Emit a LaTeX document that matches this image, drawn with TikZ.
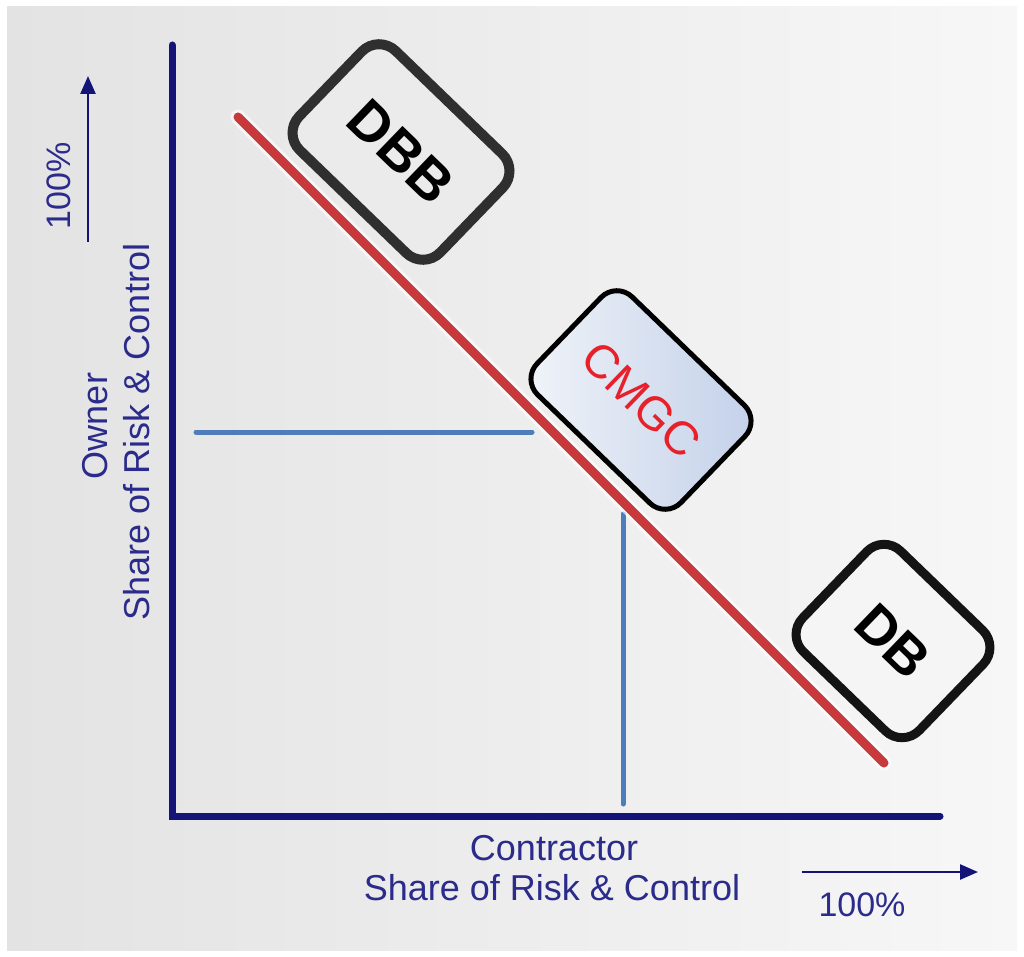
\documentclass[tikz,border=0pt]{standalone}
\usepackage{fontspec}
\setmainfont{Liberation Sans}
\usetikzlibrary{arrows.meta}
\definecolor{axisblue}{HTML}{141478}
\definecolor{labelblue}{HTML}{2B2B8C}
\definecolor{thinblue}{HTML}{4F7DBA}
\definecolor{redline}{HTML}{C8393C}
\definecolor{bgleft}{HTML}{E3E3E3}
\definecolor{bgright}{HTML}{F7F7F7}
\definecolor{dbbfill}{HTML}{EBEBEB}
\definecolor{dbbdraw}{HTML}{2F2F2F}
\definecolor{dbfill}{HTML}{F5F5F5}
\definecolor{cmgcL}{HTML}{F1F4F9}
\definecolor{cmgcR}{HTML}{C2D0E9}
\definecolor{cmgctext}{HTML}{E8202A}
\begin{document}
\begin{tikzpicture}[x=1pt,y=-1pt,
  lbl/.style={text=labelblue,font=\fontsize{36}{40}\selectfont,inner sep=0pt},
  pct/.style={text=labelblue,font=\fontsize{34}{38}\selectfont,inner sep=0pt},
  axisline/.style={draw=axisblue,line width=7pt,line cap=round,line join=miter},
  arrowline/.style={draw=axisblue,line width=2.5pt,-{Triangle[width=15pt,length=18pt]}},
  guide/.style={draw=thinblue,line width=5pt,line cap=round},
  diag/.style={draw=redline,line width=9pt,line cap=round},
  halo/.style={draw=white,opacity=0.6,line width=15pt,line cap=round},
  methodbox/.style={rectangle,inner sep=0pt,rotate=-44,align=center}]
\useasboundingbox (0,0) rectangle (1024,957);
\fill[white] (0,0) rectangle (1024,957);
\shade[left color=bgleft,right color=bgright] (7,7) rectangle (1017,950);

% coordinates
\coordinate (yTop) at (172,45);
\coordinate (origin) at (172,816);
\coordinate (xEnd) at (940,816);
\coordinate (rA) at (238,117);
\coordinate (rB) at (884,763);
\coordinate (hA) at (196,432);
\coordinate (hB) at (532,432);
\coordinate (vA) at (623,514);
\coordinate (vB) at (623,804);
\coordinate (uA) at (88,242);
\coordinate (uB) at (88,76);
\coordinate (sA) at (802,872);
\coordinate (sB) at (978,872);

% axes
\draw[axisline] (yTop) -- (origin) -- (xEnd);

% guide lines
\draw[guide] (hA) -- (hB);
\draw[guide] (vA) -- (vB);

% diagonal
\draw[halo] (rA) -- (rB);
\draw[diag] (rA) -- (rB);

% boxes
\node[methodbox,draw=dbbdraw,fill=dbbfill,line width=10pt,rounded corners=24pt,
  minimum width=196pt,minimum height=138pt,
  font=\fontsize{56}{60}\selectfont\bfseries] (dbb) at (401,152) {DBB};
\node[methodbox,draw=black,left color=cmgcL,right color=cmgcR,line width=5pt,rounded corners=22pt,
  minimum width=200pt,minimum height=136pt,text=cmgctext,
  font=\fontsize{47}{50}\selectfont] (cmgc) at (641,400) {CMGC};
\node[methodbox,draw=black!92,fill=dbfill,line width=9pt,rounded corners=24pt,
  minimum width=162pt,minimum height=140pt,
  font=\fontsize{55}{60}\selectfont\bfseries] (db) at (893,641) {DB};

% arrows
\draw[arrowline] (uA) -- (uB);
\draw[arrowline] (sA) -- (sB);

% labels
\node[pct,rotate=90] (ypct) at (59,186) {100\%};
\node[lbl,rotate=90] (owner) at (95,426) {Owner};
\node[lbl,rotate=90] (yshare) at (137,432) {Share of Risk \& Control};
\node[lbl] (contractor) at (554,848) {Contractor};
\node[lbl] (xshare) at (552,888) {Share of Risk \& Control};
\node[pct] (xpct) at (862,905) {100\%};
\end{tikzpicture}
\end{document}
